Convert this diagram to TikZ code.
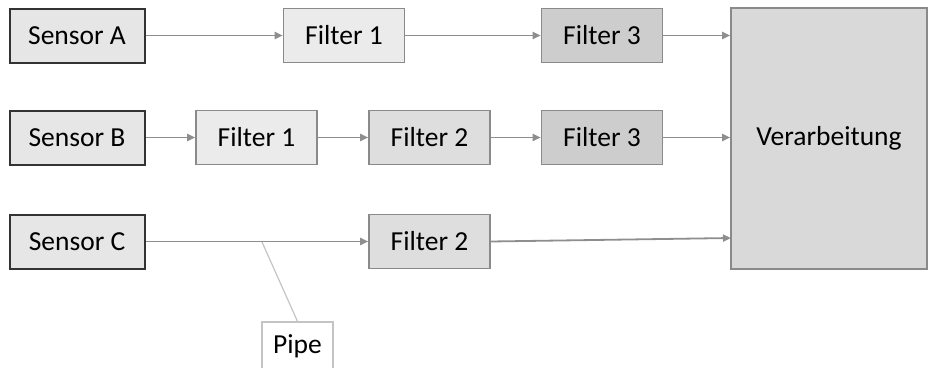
\documentclass[tikz,border=0pt]{standalone}
\usepackage{fontspec}
\setmainfont{Carlito}
\usetikzlibrary{arrows.meta}
\definecolor{sensfill}{HTML}{E6E6E6}
\definecolor{sensdraw}{HTML}{333333}
\definecolor{fonefill}{HTML}{EBEBEB}
\definecolor{ftwofill}{HTML}{DEDEDE}
\definecolor{fthreefill}{HTML}{CDCDCD}
\definecolor{verfill}{HTML}{D9D9D9}
\definecolor{boxdraw}{HTML}{8A8A8A}
\definecolor{arrcol}{HTML}{8E8E8E}
\definecolor{pipedraw}{HTML}{C4C4C4}
\begin{document}
\begin{tikzpicture}[x=1pt,y=-1pt,
  every node/.style={font=\fontsize{27.5}{33}\selectfont, text=black, inner sep=0pt, anchor=center},
  sensorbox/.style={draw=sensdraw, line width=2pt, fill=sensfill, minimum width=135pt, minimum height=54pt},
  filterbox/.style={draw=boxdraw, line width=1.6pt, minimum width=121pt, minimum height=54pt},
  fone/.style={filterbox, fill=fonefill},
  ftwo/.style={filterbox, fill=ftwofill},
  fthree/.style={filterbox, fill=fthreefill},
  verbox/.style={draw=boxdraw, line width=1.6pt, fill=verfill, minimum width=196pt, minimum height=261pt},
  pipebox/.style={draw=pipedraw, line width=1.2pt, fill=white, minimum width=71pt, minimum height=48pt},
  flow/.style={draw=arrcol, line width=1.8pt, -{Triangle[width=7pt,length=8pt]}},
  pipeline/.style={draw=pipedraw, line width=1.2pt}
]
\useasboundingbox (0,0) rectangle (928,367);
% sensors
\node[sensorbox] (sa) at (77,35.5) {Sensor A};
\node[sensorbox] (sb) at (77,137.5) {Sensor B};
\node[sensorbox] (sc) at (77,241.5) {Sensor C};
% row A
\node[fone] (a1) at (344,35.5) {Filter 1};
\node[fthree] (a3) at (602,35.5) {Filter 3};
% row B
\node[fone] (b1) at (256.5,137.5) {Filter 1};
\node[ftwo] (b2) at (429.5,137.5) {Filter 2};
\node[fthree] (b3) at (602,137.5) {Filter 3};
% row C
\node[ftwo] (c2) at (429.5,241.5) {Filter 2};
% processing
\node[verbox] (v) at (829,138.5) {Verarbeitung};
% pipe label
\node[pipebox] (pipe) at (297.5,346) {Pipe};
\coordinate (pipept) at (262,242);
\coordinate (vin3) at (731,238);
% connectors
\draw[flow] (sa) -- (a1);
\draw[flow] (a1) -- (a3);
\draw[flow] (a3.east) -- (a3.east -| v.west);
\draw[flow] (sb) -- (b1);
\draw[flow] (b1) -- (b2);
\draw[flow] (b2) -- (b3);
\draw[flow] (b3.east) -- (b3.east -| v.west);
\draw[flow] (sc) -- (c2);
\draw[flow] (c2.east) -- (vin3);
\draw[pipeline] (pipept) -- (pipe.north);
\end{tikzpicture}
\end{document}
